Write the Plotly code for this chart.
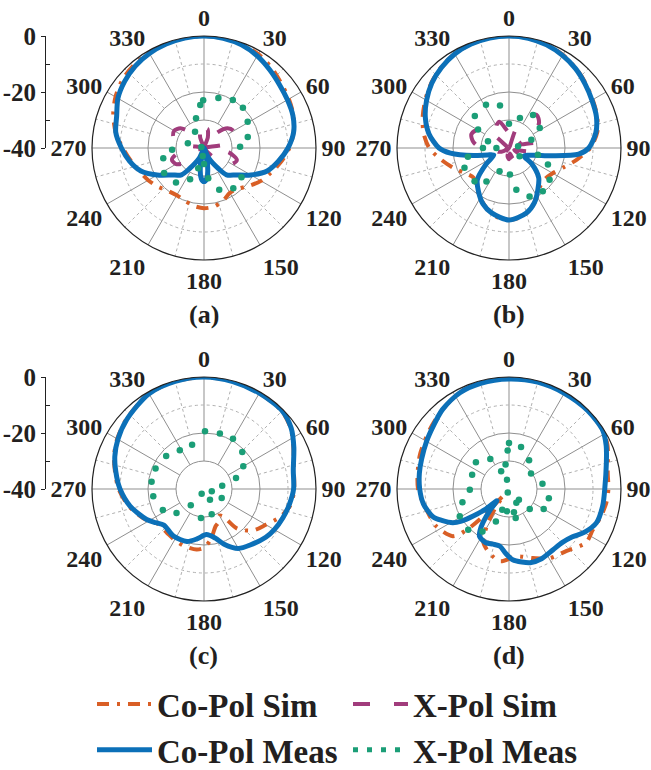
import plotly.graph_objects as go

# ---------------- data (dB, angles in degrees clockwise from top) ----------------
ANGLE_TICKS = list(range(0, 360, 30))
ANGLE_LABELS = [str(a) for a in ANGLE_TICKS]
MINOR_ANGLES = list(range(15, 360, 30))
R_RANGE = [-40, 0]
SCALE_TICKS = [-40, -20, 0]
SCALE_LABELS = ["-40", "-20", "0"]
PANEL_LABELS = ["(a)", "(b)", "(c)", "(d)"]
SERIES_NAMES = ["Co-Pol Sim", "X-Pol Sim", "Co-Pol Meas", "X-Pol Meas"]

EVERY10 = list(range(0, 360, 10))

# ---- panel (a)
co_sim_a_theta = EVERY10
co_sim_a = [0, -0.2, -0.6, -1.3, -2.5, -4, -5, -6, -7.5, -9.5, -12, -14.5, -16.5, -19, -21, -21.5,
            -20, -18.8, -18.5, -19, -20, -20.5, -20, -18.5, -17, -15.5, -13.5, -11, -8, -5.5, -3.5,
            -2, -1.2, -0.7, -0.3, -0.1]
x_sim_a_theta = EVERY10
x_sim_a = [-34, -33, -36, -40, -33, -29, -27.8, -28.5, -32, -40, -31, -27.5, -28.5, -32, -38, -40,
           -36, -34, -35, -34, -36, -40, -38, -32, -28.5, -27.8, -31, -40, -32, -28.3, -27.7, -29,
           -33, -40, -36, -33]
co_meas_a_theta = [0, 10, 20, 30, 40, 50, 60, 70, 80, 90, 100, 110, 120, 130, 140, 145, 155, 162,
                   168, 175, 180, 185, 192, 198, 205, 215, 220, 230, 240, 250, 260, 270, 280, 290,
                   300, 310, 320, 330, 340, 350]
co_meas_a = [0, -0.2, -0.8, -2, -3.5, -4.8, -5.6, -6.2, -7.5, -10, -13, -16, -20.7, -25, -27.5, -31,
             -36, -40, -34, -29, -28, -29, -34, -40, -36, -31, -27.5, -25, -20.7, -16, -13, -10.5,
             -8, -6.8, -4.5, -3, -1.8, -1, -0.5, -0.1]
x_meas_a_theta = [359, 355, 16, 31, 44, 59, 76, 88, 128, 144, 160, 172, 180, 189, 196, 204, 219,
                  238, 256, 267, 286, 331, 345, 290]
x_meas_a = [-22.9, -24.6, -21.4, -20, -20, -21.8, -23.9, -27.1, -23, -22.2, -24.1, -29.1, -34.3,
            -37.1, -32.5, -27.8, -24.1, -23.2, -25, -28.6, -34, -33.4, -29, -39]

# ---- panel (b)
co_sim_b_theta = EVERY10
co_sim_b = [0, -0.2, -0.7, -1.6, -2.8, -4.2, -5.5, -6.5, -8, -11, -15.5, -19.5, -22, -23, -22.5,
            -20, -17, -15, -14.3, -15, -17, -19.5, -22, -23.5, -22, -19, -15.5, -11.5, -9, -7.2,
            -5.5, -3.8, -2.3, -1.2, -0.5, -0.1]
x_sim_b_theta = EVERY10
x_sim_b = [-35, -40, -33, -27, -24.6, -26, -30, -36, -30, -29, -33, -38, -36, -38, -40, -37, -36,
           -38, -36, -37, -40, -36, -37, -40, -38, -36, -35, -30, -27, -25.7, -27, -33, -40, -31,
           -30, -33]
co_meas_b_theta = [0, 10, 20, 30, 40, 50, 60, 70, 80, 90, 95, 100, 105, 110, 118, 125, 135, 145,
                   155, 165, 180, 195, 205, 215, 225, 235, 245, 252, 258, 265, 270, 280, 290, 300,
                   310, 320, 330, 340, 350]
co_meas_b = [0, -0.2, -0.8, -1.8, -3, -4.5, -5.8, -6.8, -8.5, -11.5, -15, -24, -30, -32.5, -34,
             -30, -25, -22, -18.5, -16, -14.3, -16, -18, -21, -24, -30, -34, -32, -27, -19, -15,
             -11, -8.2, -6, -4, -2.5, -1.2, -0.5, -0.1]
x_meas_b_theta = [332, 348, 313, 301, 0, 20, 36, 57, 70, 103, 113, 128, 142, 157, 170, 178, 202,
                  214, 226, 246, 258, 270, 288, 79, 270, 128]
x_meas_b = [-22.5, -24.5, -23.3, -27.1, -31.3, -28.6, -25.4, -26.9, -31.5, -29.4, -24.9, -21.6,
            -20.4, -21.2, -24.9, -30.5, -31, -25.6, -22.9, -22.6, -25, -30.7, -32.1, -36.7, -35.5,
            -35.2]

# ---- panel (c)
co_sim_c_theta = [0, 15, 30, 45, 55, 65, 78, 90, 100, 110, 120, 130, 140, 145, 150, 157, 163, 172,
                  180, 187, 200, 210, 220, 234, 244, 257, 270, 280, 290, 300, 312, 330, 345]
co_sim_c = [0, -0.2, -0.5, -0.7, -2.2, -4.8, -7.2, -7.8, -8.5, -11, -14.5, -17, -21.5, -28, -29,
            -27, -26, -22, -19, -18.2, -18.5, -19, -19.5, -19.2, -16, -12.5, -9.5, -7.8, -5.8,
            -4.2, -2.7, -0.7, -0.2]
co_meas_c_theta = [0, 15, 30, 45, 55, 65, 78, 90, 100, 110, 120, 128, 140, 150, 160, 167, 177, 188,
                   198, 213, 228, 235, 242, 257, 270, 278, 290, 300, 312, 330, 345]
co_meas_c = [0, -0.3, -0.5, -0.5, -2, -4.6, -7.4, -8, -9, -10, -11, -12, -14, -15.5, -19, -22,
             -23.7, -22, -20.3, -20, -20.7, -19, -16.8, -12.9, -10, -8.5, -6.1, -4.5, -2.9, -0.7,
             -0.2]
x_meas_c_theta = [1, 16, 30, 46, 60, 71, 80, 107, 206, 151, 117, 163, 186, 219, 229, 243, 262,
                  278, 293, 311, 328, 345]
x_meas_c = [-19.4, -19.4, -19.3, -21, -23.8, -27.9, -33.4, -37.1, -38.1, -35.6, -32.9, -30.6,
            -29.6, -32.5, -27, -23.5, -21.7, -21.1, -21.2, -22.1, -23.7, -23.6]

# ---- panel (d)
co_sim_d_theta = [0, 15, 30, 45, 58, 66, 81, 90, 98, 107, 116, 125, 137, 150, 161, 174, 187, 197,
                  206, 212, 216, 220, 223, 226, 230, 243, 256, 270, 290, 307, 320, 333, 345]
co_sim_d = [-0.5, -0.3, -0.2, -0.2, -0.5, -1.5, -4.3, -4.5, -4.9, -5.8, -6.7, -6.5, -9.8, -11.4,
            -13.9, -15.8, -14, -16.1, -19, -26, -32, -37, -28, -19, -13.8, -10.8, -9.6, -7.5, -6,
            -4.6, -3, -1.3, -0.8]
co_meas_d_theta = [0, 15, 30, 45, 58, 66, 75, 90, 100, 111, 120, 127, 135, 144, 155, 164, 170, 177,
                   183, 189, 196, 203, 208, 212, 215, 218, 222, 226, 229, 233, 236, 239, 245, 250,
                   260, 270, 280, 289, 300, 310, 320, 333, 345]
co_meas_d = [-0.7, -0.5, -0.5, -0.3, -0.5, -2, -4, -5.8, -6, -6.5, -9, -11.6, -13, -13.2, -12.5,
             -12.6, -13.5, -14.7, -17, -19.3, -19.5, -19.1, -19.5, -20.1, -22, -25, -30, -34, -29,
             -24, -19.5, -16.6, -13.5, -11.1, -9, -8.1, -7.5, -7, -6, -4.8, -3, -1.4, -0.9]
x_meas_d_theta = [0, 358, 16, 35, 55, 81, 103, 120, 134, 137, 152, 168, 167, 185, 198, 202, 212,
                  225, 241, 254, 269, 291, 309, 328, 336, 352, 348, 200]
x_meas_d = [-23.6, -26.2, -24.4, -27.5, -30.4, -27.9, -25.4, -25.7, -29.7, -34.8, -34.4, -31.5,
            -29.4, -32, -32.2, -27.5, -22.1, -19.4, -19.9, -22.7, -26, -25.9, -24.8, -27.4, -33.1,
            -31.2, -36.6, -38.7]

PANELS = [
    dict(co_sim=(co_sim_a_theta, co_sim_a), x_sim=(x_sim_a_theta, x_sim_a),
         co_meas=(co_meas_a_theta, co_meas_a), x_meas=(x_meas_a_theta, x_meas_a)),
    dict(co_sim=(co_sim_b_theta, co_sim_b), x_sim=(x_sim_b_theta, x_sim_b),
         co_meas=(co_meas_b_theta, co_meas_b), x_meas=(x_meas_b_theta, x_meas_b)),
    dict(co_sim=(co_sim_c_theta, co_sim_c), x_sim=None,
         co_meas=(co_meas_c_theta, co_meas_c), x_meas=(x_meas_c_theta, x_meas_c)),
    dict(co_sim=(co_sim_d_theta, co_sim_d), x_sim=None,
         co_meas=(co_meas_d_theta, co_meas_d), x_meas=(x_meas_d_theta, x_meas_d)),
]

# ---------------- style / layout ----------------
W, H = 651, 770
R = 112
CENTERS = [(204, 148), (509, 148), (204, 489), (509, 489)]
CAPTION_Y = [314, 314, 655, 655]
FONT = "Liberation Serif"
TXT = "#231F20"
GRID = "#8f8f8f"
C_CO_SIM = "#D95F26"
C_X_SIM = "#A13C7C"
C_CO_MEAS = "#0C70B8"
C_X_MEAS = "#1B9E77"

DASH_CO_SIM = "12px,8px,3px,8px"
DASH_X_SIM = "17px,24px"
DASH_X_MEAS = "5px,9px"


def closed(theta, r):
    return list(theta) + [theta[0]], list(r) + [r[0]]


def dom(cx, cy):
    return dict(x=[(cx - R) / W, (cx + R) / W], y=[1 - (cy + R) / H, 1 - (cy - R) / H])


fig = go.Figure()
layout = {}

for i, (p, (cx, cy)) in enumerate(zip(PANELS, CENTERS)):
    base = 3 * i + 1
    ids = [f"polar{base + k}" if base + k > 1 else "polar" for k in range(3)]
    d = dom(cx, cy)
    # layer 1 : solid grid (spokes from -30 dB circle, -20 dB circle)
    layout[ids[0]] = dict(
        domain=d, hole=0.25, bgcolor="white",
        radialaxis=dict(range=[-30, 0], tickvals=[-20], showticklabels=False, ticks="",
                        showline=False, gridcolor=GRID, gridwidth=1),
        angularaxis=dict(rotation=90, direction="clockwise", tickmode="array",
                         tickvals=ANGLE_TICKS, showticklabels=False, ticks="", showline=False,
                         gridcolor=GRID, gridwidth=1))
    # layer 2 : dotted grid (minor spokes from -20 dB circle, -10 dB circle)
    layout[ids[1]] = dict(
        domain=d, hole=0.5, bgcolor="rgba(0,0,0,0)",
        radialaxis=dict(range=[-20, 0], tickvals=[-10], showticklabels=False, ticks="",
                        showline=False, gridcolor="#b0b0b0", gridwidth=1, griddash="dot"),
        angularaxis=dict(rotation=90, direction="clockwise", tickmode="array",
                         tickvals=MINOR_ANGLES, showticklabels=False, ticks="", showline=False,
                         gridcolor="#b0b0b0", gridwidth=1, griddash="dot"))
    # layer 3 : data
    layout[ids[2]] = dict(
        domain=d, bgcolor="rgba(0,0,0,0)",
        radialaxis=dict(range=R_RANGE, tickvals=[-30], showticklabels=False, ticks="",
                        showline=False, gridcolor=GRID, gridwidth=1),
        angularaxis=dict(rotation=90, direction="clockwise", tickmode="array",
                         tickvals=ANGLE_TICKS, ticktext=ANGLE_LABELS, showgrid=False,
                         showline=True, linecolor="#222", linewidth=1.2, ticks="",
                         tickfont=dict(family=FONT, size=24, color=TXT, weight="bold")))
    # empty traces so the grid layers get drawn
    for gid in ids[:2]:
        fig.add_trace(go.Scatterpolar(theta=[None], r=[None], subplot=gid, mode="lines",
                                      showlegend=False, hoverinfo="skip"))
    sp = ids[2]
    th, rr = closed(*p["co_sim"])
    fig.add_trace(go.Scatterpolar(theta=th, r=rr, subplot=sp, mode="lines", showlegend=False,
                                  line=dict(color=C_CO_SIM, width=4, dash=DASH_CO_SIM,
                                            shape="spline", smoothing=0.8)))
    if p["x_sim"] is not None:
        th, rr = closed(*p["x_sim"])
        fig.add_trace(go.Scatterpolar(theta=th, r=rr, subplot=sp, mode="lines", showlegend=False,
                                      line=dict(color=C_X_SIM, width=4, dash=DASH_X_SIM,
                                                shape="spline", smoothing=0.8)))
    th, rr = closed(*p["co_meas"])
    fig.add_trace(go.Scatterpolar(theta=th, r=rr, subplot=sp, mode="lines", showlegend=False,
                                  line=dict(color=C_CO_MEAS, width=5, shape="spline",
                                            smoothing=0.8)))
    th, rr = p["x_meas"]
    fig.add_trace(go.Scatterpolar(theta=th, r=rr, subplot=sp, mode="markers", showlegend=False,
                                  marker=dict(color=C_X_MEAS, size=6.5)))

# legend entries (styles only, no data)
legend_styles = [
    dict(color=C_CO_SIM, width=4, dash=DASH_CO_SIM),
    dict(color=C_X_SIM, width=4, dash=DASH_X_SIM),
    dict(color=C_CO_MEAS, width=5),
    dict(color=C_X_MEAS, width=5, dash=DASH_X_MEAS),
]
for k, (name, ls) in enumerate(zip(SERIES_NAMES, legend_styles)):
    fig.add_trace(go.Scatterpolar(theta=[None], r=[None], subplot="polar3", mode="lines",
                                  name=name, line=ls, legendrank=k + 1))

# left dB scale axes (for panels a and c)
for j, cy in enumerate([CENTERS[0][1], CENTERS[2][1]]):
    xa = "x" if j == 0 else "x2"
    ya = "y" if j == 0 else "y2"
    fig.add_trace(go.Scatter(x=[None], y=[None], xaxis=xa, yaxis=ya, showlegend=False))
    xkey = "xaxis" if j == 0 else "xaxis2"
    ykey = "yaxis" if j == 0 else "yaxis2"
    layout[xkey] = dict(domain=[46 / W, 50 / W], visible=False, anchor=ya)
    layout[ykey] = dict(domain=[1 - cy / H, 1 - (cy - R) / H], range=R_RANGE, anchor=xa,
                        tickmode="array", tickvals=SCALE_TICKS, ticktext=SCALE_LABELS,
                        ticks="outside", ticklen=4, tickcolor="#222", showline=True,
                        linecolor="#222", linewidth=1, showgrid=False, zeroline=False,
                        minor=dict(tickvals=[-30, -10], ticks="inside", ticklen=4,
                                   tickcolor="#222", showgrid=False),
                        tickfont=dict(family=FONT, size=25, color=TXT, weight="bold"))

fig.update_layout(**layout)

annotations = []
for lab, (cx, _), cyl in zip(PANEL_LABELS, CENTERS, CAPTION_Y):
    annotations.append(dict(text=lab, x=cx / W, y=1 - cyl / H, xref="paper", yref="paper",
                            showarrow=False, xanchor="center", yanchor="middle",
                            font=dict(family=FONT, size=26, color=TXT, weight="bold")))

fig.update_layout(
    width=W, height=H, margin=dict(l=0, r=0, t=0, b=0, autoexpand=False),
    paper_bgcolor="white", plot_bgcolor="white",
    annotations=annotations,
    showlegend=True,
    legend=dict(orientation="h", x=92 / W, xanchor="left", y=1 - 676 / H, yanchor="top",
                font=dict(family=FONT, size=33, color=TXT, weight="bold"),
                itemwidth=55, entrywidth=186, traceorder="normal", tracegroupgap=0,
                bgcolor="rgba(0,0,0,0)", borderwidth=0, itemclick=False),
)

fig.write_html("out.html")
